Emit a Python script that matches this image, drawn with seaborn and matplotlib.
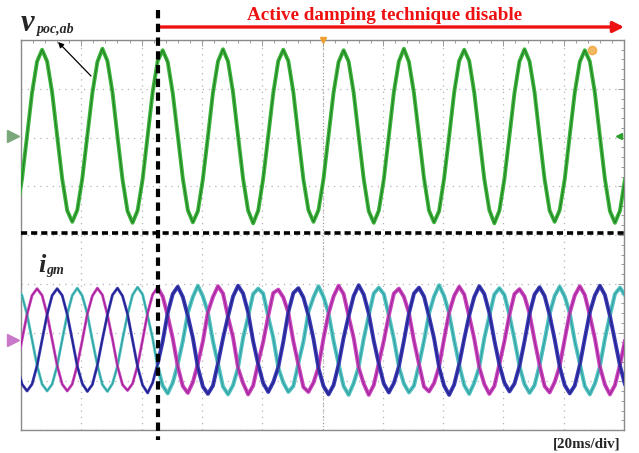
import numpy as np
import pandas as pd
import matplotlib
matplotlib.use("Agg")
import matplotlib.pyplot as plt
import seaborn as sns
from matplotlib.ticker import MultipleLocator

# ---- data read from the scope screen (vertical unit: divisions, time: ms) ----
# samples every 5/3 ms starting at -4/3 ms (12 samples per 20 ms cycle)
volt = [
    0.50, 1.15, 2.03, 2.92, 3.56, 3.80, 3.56, 2.92, 2.03, 1.15, 0.50, 0.27,
    0.51, 1.16, 2.04, 2.91, 3.55, 3.82, 3.57, 2.93, 2.02, 1.14, 0.49, 0.25,
    0.50, 1.14, 2.03, 2.93, 3.57, 3.79, 3.55, 2.91, 2.04, 1.16, 0.51, 0.26,
    0.49, 1.15, 2.02, 2.92, 3.56, 3.81, 3.56, 2.92, 2.03, 1.15, 0.50, 0.24,
    0.50, 1.16, 2.03, 2.91, 3.57, 3.80, 3.57, 2.93, 2.02, 1.14, 0.51, 0.27,
    0.51, 1.15, 2.04, 2.92, 3.55, 3.79, 3.56, 2.92, 2.03, 1.15, 0.49, 0.25,
    0.50, 1.14, 2.03, 2.93, 3.56, 3.82, 3.55, 2.91, 2.04, 1.16, 0.50, 0.26,
    0.49, 1.16, 2.02, 2.92, 3.57, 3.80, 3.57, 2.92, 2.03, 1.15, 0.51, 0.24,
    0.50, 1.15, 2.03, 2.91, 3.56, 3.81, 3.56, 2.93, 2.02, 1.14, 0.50, 0.27,
    0.51, 1.14, 2.04, 2.92, 3.55, 3.79, 3.56, 2.92, 2.03, 1.15, 0.49, 0.25,
    0.50, 1.15,
]
cur_a = [
    -2.68, -2.15, -1.63, -1.24, -1.10, -1.24, -1.63, -2.15, -2.68, -3.06, -3.20, -3.06,
    -2.67, -2.16, -1.62, -1.25, -1.09, -1.23, -1.64, -2.14, -2.69, -3.07, -3.19, -3.05,
    -2.68, -2.15, -1.60, -1.22, -1.08, -1.26, -1.66, -2.12, -2.70, -3.10, -3.24, -3.02,
    -2.64, -2.18, -1.58, -1.27, -1.05, -1.20, -1.68, -2.10, -2.73, -3.04, -3.27, -3.09,
    -2.62, -2.19, -1.66, -1.19, -1.12, -1.28, -1.59, -2.18, -2.66, -3.12, -3.22, -3.03,
    -2.71, -2.12, -1.61, -1.26, -1.04, -1.21, -1.67, -2.11, -2.72, -3.05, -3.28, -3.08,
    -2.63, -2.17, -1.65, -1.20, -1.10, -1.27, -1.60, -2.17, -2.65, -3.11, -3.21, -3.04,
    -2.70, -2.13, -1.59, -1.25, -1.06, -1.22, -1.66, -2.13, -2.71, -3.06, -3.26, -3.10,
    -2.65, -2.18, -1.64, -1.21, -1.11, -1.26, -1.61, -2.16, -2.67, -3.10, -3.23, -3.02,
    -2.69, -2.14, -1.60, -1.24, -1.05, -1.23, -1.65, -2.12, -2.70, -3.07, -3.27, -3.08,
    -2.66, -2.16,
]
cur_b = [
    -2.68, -3.06, -3.20, -3.06, -2.68, -2.15, -1.63, -1.24, -1.10, -1.24, -1.63, -2.15,
    -2.69, -3.05, -3.21, -3.07, -2.67, -2.14, -1.64, -1.23, -1.09, -1.25, -1.62, -2.16,
    -2.70, -3.08, -3.24, -3.03, -2.64, -2.18, -1.60, -1.21, -1.06, -1.27, -1.66, -2.11,
    -2.72, -3.11, -3.26, -3.09, -2.63, -2.12, -1.67, -1.26, -1.04, -1.20, -1.59, -2.18,
    -2.65, -3.04, -3.22, -3.02, -2.71, -2.19, -1.58, -1.19, -1.09, -1.28, -1.65, -2.13,
    -2.73, -3.10, -3.27, -3.08, -2.66, -2.11, -1.66, -1.25, -1.03, -1.22, -1.61, -2.17,
    -2.64, -3.05, -3.23, -3.04, -2.70, -2.17, -1.61, -1.20, -1.08, -1.26, -1.67, -2.12,
    -2.71, -3.09, -3.28, -3.07, -2.65, -2.13, -1.65, -1.27, -1.05, -1.21, -1.60, -2.16,
    -2.66, -3.03, -3.21, -3.05, -2.69, -2.18, -1.62, -1.22, -1.07, -1.25, -1.64, -2.14,
    -2.70, -3.08, -3.25, -3.09, -2.67, -2.12, -1.59, -1.24, -1.04, -1.23, -1.66, -2.17,
    -2.68, -3.07,
]
cur_c = [
    -1.10, -1.24, -1.63, -2.15, -2.68, -3.06, -3.20, -3.06, -2.68, -2.15, -1.63, -1.24,
    -1.09, -1.25, -1.62, -2.16, -2.67, -3.07, -3.21, -3.05, -2.69, -2.14, -1.64, -1.23,
    -1.07, -1.22, -1.66, -2.12, -2.71, -3.09, -3.25, -3.03, -2.65, -2.18, -1.60, -1.27,
    -1.04, -1.26, -1.59, -2.18, -2.64, -3.11, -3.27, -3.08, -2.72, -2.11, -1.67, -1.21,
    -1.10, -1.20, -1.67, -2.11, -2.72, -3.03, -3.22, -3.10, -2.63, -2.19, -1.58, -1.28,
    -1.05, -1.27, -1.60, -2.17, -2.65, -3.10, -3.28, -3.04, -2.70, -2.13, -1.65, -1.20,
    -1.08, -1.21, -1.65, -2.13, -2.70, -3.05, -3.23, -3.09, -2.66, -2.17, -1.61, -1.26,
    -1.03, -1.25, -1.61, -2.16, -2.66, -3.08, -3.26, -3.03, -2.71, -2.12, -1.66, -1.22,
    -1.09, -1.23, -1.64, -2.14, -2.69, -3.06, -3.24, -3.08, -2.67, -2.16, -1.62, -1.25,
    -1.06, -1.26, -1.60, -2.17, -2.64, -3.10, -3.27, -3.05, -2.70, -2.13, -1.65, -1.21,
    -1.08, -1.24,
]
sample_step_ms = 5 / 3
sample_start_ms = -4 / 3
t_disable_ms = 45.4
title_text = "Active damping technique disable"
scale_text = "[20ms/div]"

# ---- figure ----
sns.set_theme(style="white")
plt.rcParams["font.family"] = ["Liberation Serif", "DejaVu Serif"]

t = sample_start_ms + sample_step_ms * np.arange(len(volt))
df = pd.DataFrame({"t": t, "v": volt, "ia": cur_a, "ib": cur_b, "ic": cur_c})

W, H = 639, 453
fig = plt.figure(figsize=(W / 100, H / 100), dpi=100)
ax = fig.add_axes([21 / W, 23 / H, 603 / W, 390 / H])
ax.set_facecolor("white")

pre = df[df.t <= t_disable_ms + 1]
post = df[df.t >= t_disable_ms - 1]

# voltage trace
sns.lineplot(data=df, x="t", y="v", ax=ax, color="#3cb43c", lw=2.8,
             estimator=None, sort=False, zorder=3)
sns.lineplot(data=df, x="t", y="v", ax=ax, color="#1c6e1c", lw=0.8, alpha=0.75,
             estimator=None, sort=False, zorder=4)

# current traces
styles = [("ic", "#52c2c2", "#1f8a8a"), ("ia", "#c844be", "#8a1280"), ("ib", "#3a3ab8", "#141468")]
for col, light, dark in styles:
    sns.lineplot(data=pre, x="t", y=col, ax=ax, color=light, lw=2.0,
                 estimator=None, sort=False, zorder=3)
    sns.lineplot(data=post, x="t", y=col, ax=ax, color=light, lw=2.8,
                 estimator=None, sort=False, zorder=3)
    sns.lineplot(data=df, x="t", y=col, ax=ax, color=dark, lw=0.7, alpha=0.7,
                 estimator=None, sort=False, zorder=4)

ax.set_xlim(0, 200)
ax.set_ylim(-4, 4)
ax.set_xlabel("")
ax.set_ylabel("")
ax.set_xticks(np.arange(0, 201, 20))
ax.set_yticks(np.arange(-4, 5, 1))
ax.xaxis.set_minor_locator(MultipleLocator(4))
ax.yaxis.set_minor_locator(MultipleLocator(0.2))
ax.grid(True, which="major", color="#b4b4b4", linestyle=(0, (1, 4)), lw=0.9, zorder=1)
ax.tick_params(which="both", direction="in", top=True, right=True,
               labelbottom=False, labelleft=False, color="#9a9a9a", width=0.7)
ax.tick_params(which="major", length=4)
ax.tick_params(which="minor", length=2.5)
for s in ax.spines.values():
    s.set_color("#8a8a8a")
    s.set_linewidth(1.0)
ax.axvline(100, color="#a0a0a0", lw=0.8, ls=(0, (1, 2)), zorder=1)

# disable markers
ax.axhline(0.05, color="black", lw=2.6, dashes=(1.7, 1.1), zorder=6)
ax.plot([t_disable_ms, t_disable_ms], [1.077, -0.026], transform=ax.get_xaxis_transform(),
        color="black", lw=3.0, dashes=(2.0, 1.3), clip_on=False, zorder=6)

# channel tags
ax.plot([-2.6], [2.03], marker=">", ms=8, color="#7aa87a", clip_on=False, zorder=7)
ax.plot([-2.6], [-2.15], marker=">", ms=8, color="#c878c8", clip_on=False, zorder=7)
ax.plot([198.5], [2.03], marker="<", ms=4, color="#2ea02e", clip_on=False, zorder=7)
ax.plot([189.5], [3.8], marker="o", ms=6, color="#f0a030", alpha=0.75, clip_on=False, zorder=5)
ax.plot([100], [4.0], marker="v", ms=4, color="#f0a030", clip_on=False, zorder=7)

# red arrow and text
ax.annotate("", xy=(624 / W, 1 - 27 / H), xytext=(158 / W, 1 - 27 / H),
            xycoords="figure fraction", textcoords="figure fraction",
            arrowprops=dict(arrowstyle="-|>", color="#ee1111", lw=2.4,
                            mutation_scale=16, shrinkA=0, shrinkB=0))
fig.text(385 / W, 1 - 20 / H, title_text, ha="center", va="baseline",
         color="#ee1111", fontsize=13.8, fontweight="bold")

# trace labels
fig.text(21 / W, 1 - 31 / H, "v", fontsize=22, fontweight="bold", fontstyle="italic",
         va="baseline")
fig.text(37 / W, 1 - 33 / H, "poc,ab", fontsize=10, fontweight="bold", fontstyle="italic",
         va="baseline")
fig.text(38 / W, 1 - 272 / H, "i", fontsize=19, fontweight="bold", fontstyle="italic",
         va="baseline")
fig.text(46 / W, 1 - 274 / H, "gm", fontsize=10, fontweight="bold", fontstyle="italic",
         va="baseline")
ax.annotate("", xy=(58 / W, 1 - 42 / H), xytext=(91 / W, 1 - 76 / H),
            xycoords="figure fraction", textcoords="figure fraction",
            arrowprops=dict(arrowstyle="-|>", color="black", lw=0.9,
                            mutation_scale=8, shrinkA=0, shrinkB=0))
fig.text(620 / W, 1 - 447 / H, scale_text, ha="right", va="baseline",
         fontsize=10.8, fontweight="bold")

fig.savefig("out.png", dpi=100, facecolor="white")
